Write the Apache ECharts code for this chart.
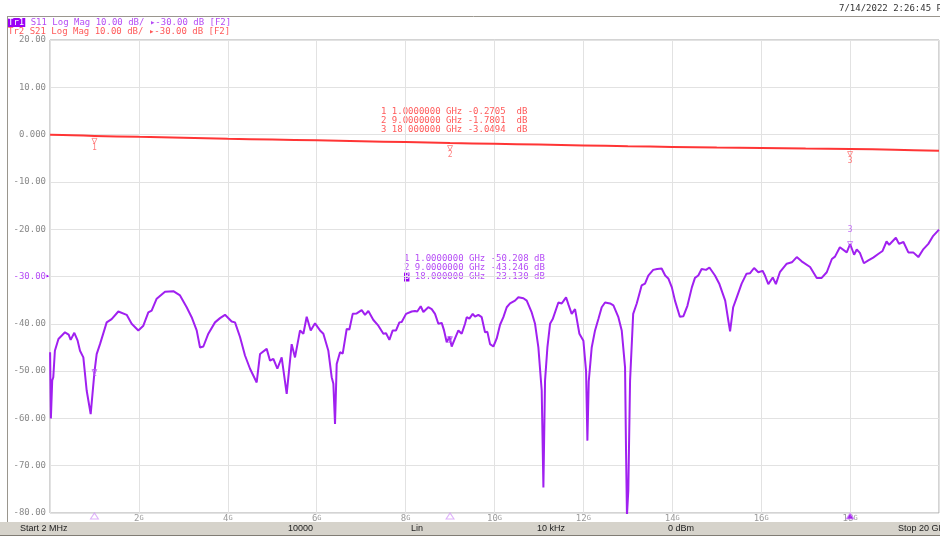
<!DOCTYPE html>
<html>
<head>
<meta charset="utf-8">
<script src="https://cdn.jsdelivr.net/npm/echarts@6/dist/echarts.min.js"></script>
<style>html,body{margin:0;padding:0;background:#fff;}#c{width:940px;height:536px;}</style>
</head>
<body>
<div id="c"></div>
<script>
// S11 trace (GHz, dB)
const s11Freq = [0.002,0.02,0.05,0.074,0.11,0.19,0.337,0.42,0.465,0.547,0.62,0.675,0.75,0.825,0.915,1.0,1.05,1.125,1.275,1.387,1.537,1.725,1.837,1.987,2.1,2.212,2.287,2.4,2.587,2.775,2.925,3.075,3.187,3.3,3.375,3.45,3.562,3.712,3.825,3.937,4.087,4.162,4.275,4.387,4.5,4.65,4.725,4.875,4.95,5.025,5.115,5.212,5.325,5.437,5.512,5.625,5.7,5.775,5.865,5.962,6.075,6.15,6.262,6.337,6.375,6.412,6.45,6.525,6.585,6.675,6.735,6.81,6.9,7.012,7.087,7.162,7.275,7.387,7.5,7.56,7.635,7.71,7.785,7.86,7.912,8.01,8.137,8.212,8.262,8.34,8.4,8.51,8.587,8.662,8.737,8.812,8.865,8.925,8.985,9.0,9.037,9.112,9.187,9.262,9.337,9.375,9.435,9.51,9.562,9.637,9.712,9.787,9.84,9.9,9.975,10.05,10.125,10.2,10.275,10.35,10.462,10.537,10.65,10.725,10.837,10.912,10.987,11.062,11.1,11.137,11.19,11.25,11.31,11.437,11.512,11.55,11.61,11.662,11.737,11.812,11.91,12.0,12.06,12.09,12.12,12.187,12.262,12.337,12.412,12.487,12.6,12.675,12.787,12.862,12.937,12.96,12.98,13.01,13.05,13.12,13.2,13.31,13.386,13.46,13.57,13.66,13.76,13.84,13.91,13.99,14.06,14.17,14.25,14.34,14.44,14.51,14.585,14.66,14.76,14.835,14.96,15.06,15.19,15.26,15.3,15.37,15.45,15.56,15.67,15.75,15.84,15.935,16.03,16.085,16.16,16.26,16.33,16.42,16.575,16.69,16.8,16.91,17.1,17.25,17.36,17.475,17.59,17.66,17.77,17.925,18.0,18.09,18.15,18.22,18.31,18.41,18.52,18.64,18.73,18.82,18.88,19.03,19.1,19.2,19.31,19.42,19.535,19.65,19.76,19.87,20.0];
const s11Values = [-46,-60,-52,-51.3,-45.7,-43.2,-41.8,-42.3,-43.4,-41.9,-43.5,-45.7,-47.1,-54.1,-59.1,-50.2,-46.4,-44.3,-39.7,-39.0,-37.4,-38.1,-40.0,-41.4,-40.4,-37.6,-37.2,-34.7,-33.2,-33.1,-34.0,-36.5,-38.6,-41.4,-45.0,-44.8,-42.1,-39.7,-38.8,-38.1,-39.5,-39.7,-42.8,-46.7,-49.5,-52.4,-46.4,-45.3,-47.8,-47.4,-49.5,-47.1,-54.8,-44.3,-47.1,-41.4,-42.1,-38.5,-41.4,-39.9,-41.4,-42.1,-45.7,-51.3,-52.7,-61.2,-48.5,-46.0,-46.3,-41.1,-41.2,-37.9,-37.8,-37.1,-38.1,-37.3,-39.2,-40.4,-42.1,-42.0,-43.4,-41.4,-41.4,-39.7,-39.6,-37.9,-37.4,-37.3,-37.4,-36.3,-37.5,-36.5,-36.9,-37.9,-40.0,-39.8,-41.4,-43.9,-42.8,-43.25,-44.8,-43.1,-41.4,-42.1,-40.0,-38.6,-38.9,-37.9,-38.5,-38.1,-38.6,-41.8,-41.7,-44.3,-44.8,-43.1,-40.2,-38.6,-36.5,-35.7,-35.1,-34.4,-34.6,-35.1,-37.6,-40.0,-45.0,-54.1,-74.6,-52.0,-45.0,-40.0,-39.0,-35.5,-35.7,-35.2,-34.4,-35.9,-37.9,-36.9,-42.1,-43.6,-50.0,-64.7,-52.2,-45.0,-41.4,-39.0,-36.5,-35.5,-35.7,-36.1,-38.6,-41.4,-49.2,-67.5,-80.5,-75.3,-52.0,-37.9,-35.7,-31.9,-31.5,-29.8,-28.6,-28.4,-28.3,-29.8,-30.4,-32.3,-35.1,-38.5,-38.4,-36.2,-32.3,-30.3,-29.8,-28.4,-28.6,-28.1,-29.8,-31.6,-35.1,-39.3,-41.6,-36.5,-34.4,-31.5,-29.4,-29.3,-28.2,-29.1,-28.8,-29.8,-31.6,-30.2,-31.6,-29.1,-27.3,-27.0,-25.9,-26.8,-28.0,-30.3,-30.3,-29.1,-26.3,-25.8,-23.8,-24.9,-23.13,-25.4,-24.3,-25.0,-27.2,-26.6,-26.0,-25.2,-24.6,-22.6,-23.3,-21.8,-23.1,-22.7,-24.9,-24.9,-25.9,-24.2,-23.1,-21.4,-20.1];
// S21 trace (GHz, dB)
const s21Freq = [0.002,0.5,1,2,3,4,5,6,7,8,9,10,11,12,13,14,15,16,17,18,19,20];
const s21Values = [-0.05,-0.15,-0.27,-0.48,-0.68,-0.88,-1.05,-1.22,-1.4,-1.58,-1.78,-1.95,-2.1,-2.28,-2.45,-2.6,-2.75,-2.85,-2.95,-3.05,-3.2,-3.4];
// markers
const markerFreq = [1, 9, 18];
const markerNames = ['1', '2', '3'];
const s11MarkerValues = [-50.208, -43.246, -23.130];
const s21MarkerValues = [-0.2705, -1.7801, -3.0494];
const s11MarkerText = ['1 1.0000000 GHz -50.208 dB', '2 9.0000000 GHz -43.246 dB', '18.000000 GHz -23.130 dB'];
const s21MarkerText = ['1 1.0000000 GHz -0.2705  dB', '2 9.0000000 GHz -1.7801  dB', '3 18.000000 GHz -3.0494  dB'];
const xTicks = [2, 4, 6, 8, 10, 12, 14, 16, 18];
const statusItems = ['Start 2 MHz', '10000', 'Lin', '10 kHz', '0 dBm', 'Stop 20 GHz'];

const PURPLE = '#a020f0', PTEXT = '#b54cf5', RED = '#ff3535', RTEXT = '#ff5a5a';
const MONO = '"DejaVu Sans Mono", monospace';

const chart = echarts.init(document.getElementById('c'));
const zip = (a, b) => a.map((v, i) => [v, b[i]]);

const statusX = [20, 288, 411, 537, 668, 898];
const graphics = [
  {type: 'rect', shape: {x: 0, y: 522, width: 940, height: 14}, style: {fill: '#d6d3cb'}, z: 0},
  {type: 'line', shape: {x1: 0, y1: 535.5, x2: 940, y2: 535.5}, style: {stroke: '#807c74', lineWidth: 1}},
  {type: 'line', shape: {x1: 7.5, y1: 16.5, x2: 7.5, y2: 522}, style: {stroke: '#9a968e', lineWidth: 1}},
  {type: 'line', shape: {x1: 7, y1: 16.5, x2: 940, y2: 16.5}, style: {stroke: '#9a968e', lineWidth: 1}},
  {type: 'text', x: 839, y: 9, style: {text: '7/14/2022 2:26:45 PM', font: '9px ' + MONO, fill: '#333', verticalAlign: 'middle'}},
  {type: 'text', x: 8, y: 22.5, style: {
    text: '{h|Tr1}{p| S11 Log Mag 10.00 dB/ ▸-30.00 dB [F2]}',
    verticalAlign: 'middle',
    rich: {h: {fontFamily: MONO, fontSize: 9, fill: '#fff', backgroundColor: '#9b00f5', padding: [0, 1, 0, 0]},
           p: {fontFamily: MONO, fontSize: 9, fill: PTEXT}}}},
  {type: 'text', x: 8, y: 31.5, style: {text: 'Tr2 S21 Log Mag 10.00 dB/ ▸-30.00 dB [F2]', font: '9px ' + MONO, fill: RTEXT, verticalAlign: 'middle'}}
];
statusItems.forEach((t, i) => graphics.push({type: 'text', x: statusX[i], y: 529, style: {text: t, font: '9px "Liberation Sans", Arial', fill: '#222', verticalAlign: 'middle'}}));
s21MarkerText.forEach((t, i) => graphics.push({type: 'text', x: 381, y: 112 + i * 9, style: {text: t, font: '9px ' + MONO, fill: RTEXT, verticalAlign: 'middle'}}));
s11MarkerText.forEach((t, i) => graphics.push({type: 'text', x: 404, y: 259 + i * 9, style: i === 2 ? {
    text: '{h|3}{p| ' + t + '}', verticalAlign: 'middle',
    rich: {h: {fontFamily: MONO, fontSize: 9, fill: '#fff', backgroundColor: '#9b00f5'}, p: {fontFamily: MONO, fontSize: 9, fill: PTEXT}}
  } : {text: t, font: '9px ' + MONO, fill: PTEXT, verticalAlign: 'middle'}}));

chart.setOption({
  animation: false,
  backgroundColor: '#fff',
  grid: {left: 50, right: 1, top: 40, bottom: 23, show: true, borderColor: '#a8a8a8', borderWidth: 1, backgroundColor: '#fff'},
  xAxis: {
    type: 'value', min: 0, max: 20, interval: 2,
    axisLine: {show: false}, axisTick: {show: false},
    splitLine: {show: true, lineStyle: {color: '#e2e2e2', width: 1}},
    axisLabel: {
      margin: 1, showMinLabel: false, showMaxLabel: false,
      formatter: v => xTicks.indexOf(v) >= 0 ? '{n|' + v + '}{g|G}' : '',
      rich: {n: {fontFamily: MONO, fontSize: 9, color: '#9a9a9a'}, g: {fontFamily: MONO, fontSize: 7, color: '#9a9a9a'}}
    }
  },
  yAxis: {
    type: 'value', min: -80, max: 20, interval: 10,
    axisLine: {show: false}, axisTick: {show: false},
    splitLine: {show: true, lineStyle: {color: '#e2e2e2', width: 1}},
    axisLabel: {
      margin: 0,
      formatter: v => {
        const t = v === 0 ? '0.000' : v.toFixed(2);
        return v === -30 ? '{p|' + t + '}{t|▸}' : '{n|' + t + '}{s| }';
      },
      rich: {
        n: {fontFamily: MONO, fontSize: 9, color: '#8a8a8a'},
        p: {fontFamily: MONO, fontSize: 9, color: PTEXT},
        t: {fontFamily: MONO, fontSize: 7, color: '#9b00f5', width: 4},
        s: {fontSize: 7, width: 4}
      }
    }
  },
  series: [
    {type: 'line', data: zip(s21Freq, s21Values), showSymbol: false, smooth: 0.3, lineStyle: {color: RED, width: 2}, z: 3},
    {type: 'line', data: zip(s11Freq, s11Values), showSymbol: false, lineStyle: {color: PURPLE, width: 2}, z: 4},
    {type: 'scatter', data: zip(markerFreq, s21MarkerValues), symbol: 'triangle', symbolRotate: 180, symbolSize: [5, 5], symbolOffset: [0, 5],
      itemStyle: {color: 'rgba(0,0,0,0)', borderColor: RTEXT, borderWidth: 0.8},
      label: {show: true, position: 'bottom', distance: 0, formatter: p => markerNames[p.dataIndex], fontFamily: MONO, fontSize: 8, color: RTEXT}, z: 5},
    {type: 'scatter', data: zip(markerFreq, s11MarkerValues), symbol: 'triangle', symbolRotate: 180, symbolSize: [5, 5],
      symbolOffset: [[0, 6], [0, 6], [0, -5]],
      itemStyle: {color: 'rgba(0,0,0,0)', borderColor: PTEXT, borderWidth: 0.8},
      label: {show: true, fontFamily: MONO, fontSize: 8, color: PTEXT, distance: 0,
        formatter: p => markerNames[p.dataIndex]},
      labelLayout: p => p.dataIndex === 2 ? {dy: -14} : {dy: 2},
      z: 5},
    {type: 'scatter', data: zip(markerFreq, markerFreq.map(() => -80)), symbol: 'triangle', symbolSize: [8, 6], symbolOffset: [0, 3],
      clip: false, silent: true,
      itemStyle: {color: p => p.dataIndex === 2 ? '#9b00f5' : 'rgba(0,0,0,0)', borderColor: '#d59cf7', borderWidth: 1}, z: 6}
  ],
  graphic: graphics
});
</script>
</body>
</html>
